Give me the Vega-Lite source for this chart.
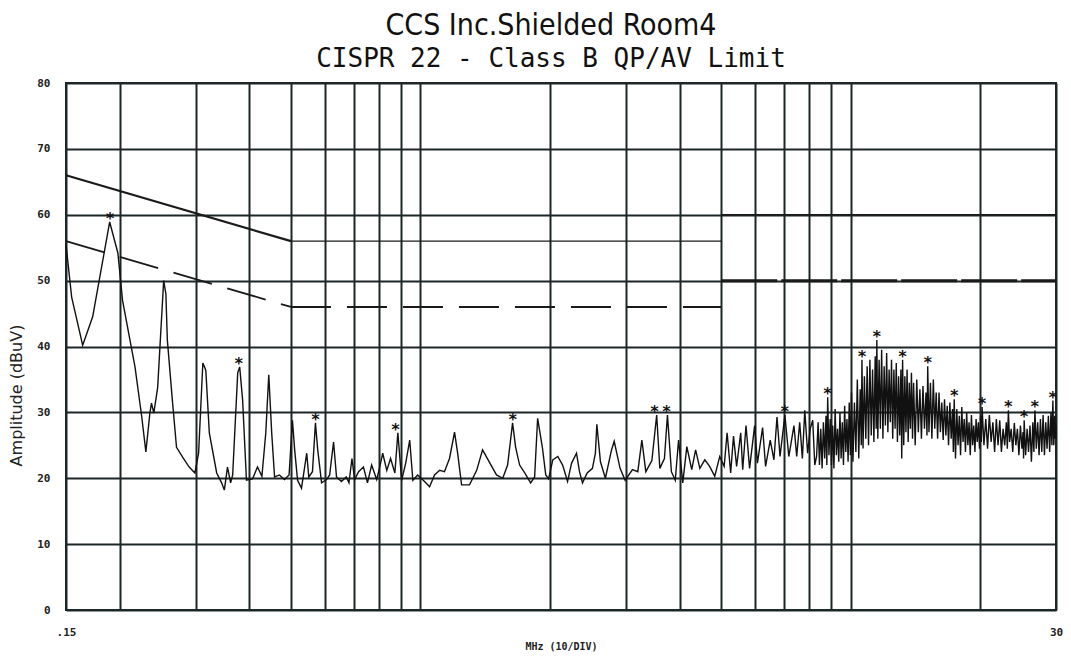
{
  "$schema": "https://vega.github.io/schema/vega-lite/v6.json",
  "autosize": {"type": "none"},
  "width": 990,
  "height": 527,
  "padding": {"left": 66, "top": 83, "right": 15, "bottom": 49},
  "background": "white",
  "title": {
    "text": "CCS Inc.Shielded Room4",
    "subtitle": "CISPR 22 - Class B QP/AV  Limit",
    "anchor": "middle",
    "font": "DejaVu Sans Condensed",
    "fontSize": 30,
    "fontWeight": "normal",
    "color": "#111",
    "subtitleFont": "DejaVu Sans Mono",
    "subtitleFontSize": 26,
    "subtitleColor": "#111",
    "subtitlePadding": 5,
    "offset": 5,
    "dx": -10
  },
  "config": {
    "view": {"stroke": "#1c2626", "strokeWidth": 2},
    "axis": {
      "gridColor": "#1c2626",
      "gridWidth": 2,
      "gridOpacity": 1,
      "ticks": false,
      "domain": false,
      "labelFont": "DejaVu Sans Mono",
      "labelFontWeight": "bold",
      "labelFontSize": 11,
      "labelColor": "#222"
    }
  },
  "datasets": {
    "trace": [
      {"f": 0.15, "dB": 55.5}, {"f": 0.1546, "dB": 47.5}, {"f": 0.164, "dB": 40.2}, {"f": 0.173, "dB": 44.5},
      {"f": 0.1895, "dB": 58.9}, {"f": 0.198, "dB": 54.2}, {"f": 0.203, "dB": 47.0}, {"f": 0.217, "dB": 36.9},
      {"f": 0.225, "dB": 29.3}, {"f": 0.23, "dB": 24.0}, {"f": 0.235, "dB": 29.9}, {"f": 0.237, "dB": 31.4},
      {"f": 0.24, "dB": 29.9}, {"f": 0.245, "dB": 33.8}, {"f": 0.253, "dB": 50.0}, {"f": 0.256, "dB": 48.0},
      {"f": 0.258, "dB": 41.0}, {"f": 0.265, "dB": 31.9}, {"f": 0.271, "dB": 24.7}, {"f": 0.28, "dB": 23.2},
      {"f": 0.29, "dB": 21.7}, {"f": 0.299, "dB": 20.8}, {"f": 0.305, "dB": 23.8}, {"f": 0.312, "dB": 37.5},
      {"f": 0.317, "dB": 36.4}, {"f": 0.323, "dB": 26.9}, {"f": 0.336, "dB": 20.8}, {"f": 0.345, "dB": 19.3},
      {"f": 0.35, "dB": 18.2}, {"f": 0.356, "dB": 21.7}, {"f": 0.362, "dB": 19.3}, {"f": 0.366, "dB": 20.5},
      {"f": 0.376, "dB": 36.0}, {"f": 0.38, "dB": 36.9}, {"f": 0.386, "dB": 31.9}, {"f": 0.394, "dB": 19.7},
      {"f": 0.407, "dB": 19.9}, {"f": 0.418, "dB": 21.7}, {"f": 0.428, "dB": 20.3}, {"f": 0.437, "dB": 26.9},
      {"f": 0.444, "dB": 35.7}, {"f": 0.451, "dB": 26.9}, {"f": 0.458, "dB": 20.2}, {"f": 0.47, "dB": 20.5},
      {"f": 0.483, "dB": 19.8}, {"f": 0.495, "dB": 20.5}, {"f": 0.504, "dB": 28.8}, {"f": 0.51, "dB": 24.3},
      {"f": 0.518, "dB": 19.7}, {"f": 0.529, "dB": 18.5}, {"f": 0.538, "dB": 21.7}, {"f": 0.544, "dB": 23.8},
      {"f": 0.55, "dB": 20.2}, {"f": 0.561, "dB": 21.0}, {"f": 0.57, "dB": 28.4}, {"f": 0.577, "dB": 24.3},
      {"f": 0.589, "dB": 19.3}, {"f": 0.605, "dB": 19.8}, {"f": 0.615, "dB": 20.5}, {"f": 0.628, "dB": 25.5},
      {"f": 0.638, "dB": 20.2}, {"f": 0.655, "dB": 19.5}, {"f": 0.672, "dB": 20.2}, {"f": 0.682, "dB": 19.3},
      {"f": 0.693, "dB": 23.0}, {"f": 0.703, "dB": 19.8}, {"f": 0.718, "dB": 21.0}, {"f": 0.737, "dB": 21.7},
      {"f": 0.753, "dB": 19.3}, {"f": 0.77, "dB": 22.0}, {"f": 0.791, "dB": 19.8}, {"f": 0.804, "dB": 21.7},
      {"f": 0.817, "dB": 23.8}, {"f": 0.835, "dB": 21.2}, {"f": 0.852, "dB": 23.0}, {"f": 0.872, "dB": 20.8},
      {"f": 0.886, "dB": 26.9}, {"f": 0.904, "dB": 19.7}, {"f": 0.924, "dB": 22.3}, {"f": 0.944, "dB": 25.8},
      {"f": 0.96, "dB": 19.7}, {"f": 0.985, "dB": 20.5}, {"f": 1.022, "dB": 19.5}, {"f": 1.05, "dB": 18.7},
      {"f": 1.078, "dB": 20.5}, {"f": 1.108, "dB": 21.2}, {"f": 1.137, "dB": 21.0}, {"f": 1.168, "dB": 23.0},
      {"f": 1.2, "dB": 27.0}, {"f": 1.22, "dB": 23.8}, {"f": 1.246, "dB": 19.0}, {"f": 1.3, "dB": 19.0},
      {"f": 1.351, "dB": 21.2}, {"f": 1.394, "dB": 24.3}, {"f": 1.45, "dB": 22.3}, {"f": 1.502, "dB": 20.5},
      {"f": 1.553, "dB": 20.0}, {"f": 1.594, "dB": 22.0}, {"f": 1.637, "dB": 28.4}, {"f": 1.664, "dB": 24.7},
      {"f": 1.7, "dB": 22.0}, {"f": 1.747, "dB": 20.8}, {"f": 1.803, "dB": 19.3}, {"f": 1.842, "dB": 20.2},
      {"f": 1.872, "dB": 29.1}, {"f": 1.92, "dB": 24.7}, {"f": 1.955, "dB": 20.5}, {"f": 1.985, "dB": 19.9},
      {"f": 2.03, "dB": 22.8}, {"f": 2.085, "dB": 23.3}, {"f": 2.14, "dB": 22.0}, {"f": 2.197, "dB": 19.5},
      {"f": 2.245, "dB": 22.3}, {"f": 2.305, "dB": 23.8}, {"f": 2.342, "dB": 21.0}, {"f": 2.38, "dB": 19.3},
      {"f": 2.44, "dB": 20.8}, {"f": 2.51, "dB": 21.5}, {"f": 2.55, "dB": 23.8}, {"f": 2.57, "dB": 28.2},
      {"f": 2.62, "dB": 22.5}, {"f": 2.69, "dB": 20.0}, {"f": 2.78, "dB": 24.3}, {"f": 2.82, "dB": 25.6},
      {"f": 2.91, "dB": 21.5}, {"f": 2.99, "dB": 19.7}, {"f": 3.11, "dB": 21.3}, {"f": 3.2, "dB": 21.0},
      {"f": 3.27, "dB": 25.8}, {"f": 3.34, "dB": 21.0}, {"f": 3.45, "dB": 22.7}, {"f": 3.54, "dB": 29.6},
      {"f": 3.6, "dB": 21.5}, {"f": 3.69, "dB": 23.0}, {"f": 3.75, "dB": 29.6}, {"f": 3.83, "dB": 21.0},
      {"f": 3.91, "dB": 19.7}, {"f": 3.98, "dB": 25.8}, {"f": 4.07, "dB": 19.3}, {"f": 4.16, "dB": 24.8},
      {"f": 4.27, "dB": 21.3}, {"f": 4.36, "dB": 24.3}, {"f": 4.46, "dB": 21.5}, {"f": 4.58, "dB": 22.8},
      {"f": 4.7, "dB": 21.8}, {"f": 4.83, "dB": 20.3}, {"f": 4.96, "dB": 23.3}, {"f": 5.08, "dB": 21.8},
      {"f": 5.16, "dB": 26.9}, {"f": 5.26, "dB": 20.8}, {"f": 5.34, "dB": 26.4}, {"f": 5.43, "dB": 21.8},
      {"f": 5.55, "dB": 26.9}, {"f": 5.61, "dB": 21.3}, {"f": 5.71, "dB": 28.0}, {"f": 5.82, "dB": 21.5},
      {"f": 5.98, "dB": 28.0}, {"f": 6.07, "dB": 22.3}, {"f": 6.24, "dB": 27.7}, {"f": 6.34, "dB": 21.8},
      {"f": 6.5, "dB": 25.8}, {"f": 6.63, "dB": 22.8}, {"f": 6.74, "dB": 29.3}, {"f": 6.85, "dB": 23.3},
      {"f": 7.03, "dB": 29.6}, {"f": 7.18, "dB": 23.3}, {"f": 7.38, "dB": 28.0}, {"f": 7.49, "dB": 23.3},
      {"f": 7.61, "dB": 28.5}, {"f": 7.72, "dB": 23.0}, {"f": 7.82, "dB": 30.3}, {"f": 7.94, "dB": 23.8},
      {"f": 8.05, "dB": 27.5}, {"f": 8.16, "dB": 28.8}, {"f": 8.25, "dB": 22.0}, {"f": 8.33, "dB": 23.3},
      {"f": 8.40, "dB": 28.5}, {"f": 8.46, "dB": 22.0}, {"f": 8.52, "dB": 27.5}, {"f": 8.58, "dB": 21.5},
      {"f": 8.64, "dB": 28.5}, {"f": 8.70, "dB": 23.0}, {"f": 8.76, "dB": 29.5}, {"f": 8.80, "dB": 22.0},
      {"f": 8.84, "dB": 32.3}, {"f": 8.90, "dB": 23.5}, {"f": 8.96, "dB": 29.0}, {"f": 9.02, "dB": 22.0},
      {"f": 9.08, "dB": 28.0}, {"f": 9.14, "dB": 21.5}, {"f": 9.20, "dB": 30.5}, {"f": 9.26, "dB": 23.5},
      {"f": 9.32, "dB": 27.5}, {"f": 9.38, "dB": 22.5}, {"f": 9.44, "dB": 30.0}, {"f": 9.50, "dB": 23.0},
      {"f": 9.56, "dB": 28.5}, {"f": 9.62, "dB": 22.0}, {"f": 9.68, "dB": 31.0}, {"f": 9.74, "dB": 24.0},
      {"f": 9.80, "dB": 29.0}, {"f": 9.86, "dB": 22.5}, {"f": 9.92, "dB": 31.5}, {"f": 9.98, "dB": 23.5},
      {"f": 10.04, "dB": 33.0}, {"f": 10.12, "dB": 22.5}, {"f": 10.20, "dB": 31.5}, {"f": 10.28, "dB": 24.0},
      {"f": 10.36, "dB": 35.0}, {"f": 10.44, "dB": 23.0}, {"f": 10.52, "dB": 33.5}, {"f": 10.58, "dB": 25.0},
      {"f": 10.62, "dB": 38.0}, {"f": 10.68, "dB": 24.5}, {"f": 10.76, "dB": 35.5}, {"f": 10.84, "dB": 26.0},
      {"f": 10.92, "dB": 37.0}, {"f": 11.00, "dB": 25.0}, {"f": 11.08, "dB": 38.0}, {"f": 11.16, "dB": 26.5},
      {"f": 11.24, "dB": 36.5}, {"f": 11.32, "dB": 25.5}, {"f": 11.40, "dB": 38.5}, {"f": 11.46, "dB": 27.5},
      {"f": 11.50, "dB": 41.0}, {"f": 11.56, "dB": 26.0}, {"f": 11.64, "dB": 38.0}, {"f": 11.72, "dB": 27.5},
      {"f": 11.80, "dB": 39.5}, {"f": 11.88, "dB": 26.0}, {"f": 11.96, "dB": 37.0}, {"f": 12.04, "dB": 28.0},
      {"f": 12.12, "dB": 39.0}, {"f": 12.20, "dB": 27.0}, {"f": 12.28, "dB": 36.5}, {"f": 12.36, "dB": 28.5},
      {"f": 12.44, "dB": 38.0}, {"f": 12.52, "dB": 26.0}, {"f": 12.60, "dB": 36.5}, {"f": 12.68, "dB": 27.5},
      {"f": 12.76, "dB": 37.5}, {"f": 12.84, "dB": 25.5}, {"f": 12.92, "dB": 35.5}, {"f": 13.00, "dB": 26.5},
      {"f": 13.08, "dB": 36.5}, {"f": 13.14, "dB": 23.0}, {"f": 13.20, "dB": 38.0}, {"f": 13.28, "dB": 25.0},
      {"f": 13.36, "dB": 35.5}, {"f": 13.44, "dB": 27.0}, {"f": 13.52, "dB": 36.5}, {"f": 13.60, "dB": 25.5},
      {"f": 13.68, "dB": 34.5}, {"f": 13.76, "dB": 27.5}, {"f": 13.84, "dB": 36.0}, {"f": 13.92, "dB": 26.0},
      {"f": 14.00, "dB": 34.5}, {"f": 14.12, "dB": 25.0}, {"f": 14.24, "dB": 35.0}, {"f": 14.36, "dB": 27.0},
      {"f": 14.48, "dB": 33.5}, {"f": 14.60, "dB": 26.0}, {"f": 14.72, "dB": 34.0}, {"f": 14.84, "dB": 27.5},
      {"f": 14.96, "dB": 33.0}, {"f": 15.04, "dB": 26.5}, {"f": 15.10, "dB": 37.0}, {"f": 15.20, "dB": 27.0},
      {"f": 15.32, "dB": 34.5}, {"f": 15.44, "dB": 26.0}, {"f": 15.56, "dB": 35.0}, {"f": 15.68, "dB": 27.5},
      {"f": 15.80, "dB": 33.0}, {"f": 15.92, "dB": 26.0}, {"f": 16.04, "dB": 33.0}, {"f": 16.16, "dB": 27.0},
      {"f": 16.28, "dB": 31.5}, {"f": 16.40, "dB": 25.8}, {"f": 16.52, "dB": 32.0}, {"f": 16.64, "dB": 26.5},
      {"f": 16.76, "dB": 31.0}, {"f": 16.88, "dB": 25.0}, {"f": 17.00, "dB": 31.5}, {"f": 17.12, "dB": 26.0},
      {"f": 17.24, "dB": 30.5}, {"f": 17.32, "dB": 24.0}, {"f": 17.40, "dB": 32.0}, {"f": 17.52, "dB": 23.0},
      {"f": 17.64, "dB": 30.5}, {"f": 17.76, "dB": 25.0}, {"f": 17.88, "dB": 29.5}, {"f": 18.00, "dB": 23.5},
      {"f": 18.12, "dB": 30.8}, {"f": 18.24, "dB": 25.5}, {"f": 18.36, "dB": 29.0}, {"f": 18.48, "dB": 24.0},
      {"f": 18.60, "dB": 30.0}, {"f": 18.72, "dB": 25.0}, {"f": 18.84, "dB": 28.5}, {"f": 18.96, "dB": 23.5},
      {"f": 19.08, "dB": 29.6}, {"f": 19.20, "dB": 25.0}, {"f": 19.32, "dB": 28.0}, {"f": 19.44, "dB": 24.0},
      {"f": 19.56, "dB": 29.0}, {"f": 19.68, "dB": 25.5}, {"f": 19.80, "dB": 28.5}, {"f": 19.92, "dB": 24.5},
      {"f": 20.04, "dB": 29.5}, {"f": 20.12, "dB": 25.5}, {"f": 20.20, "dB": 30.8}, {"f": 20.40, "dB": 25.0},
      {"f": 20.60, "dB": 29.0}, {"f": 20.80, "dB": 24.5}, {"f": 21.00, "dB": 29.6}, {"f": 21.20, "dB": 25.5},
      {"f": 21.40, "dB": 28.5}, {"f": 21.60, "dB": 24.0}, {"f": 21.80, "dB": 29.0}, {"f": 22.00, "dB": 25.0},
      {"f": 22.20, "dB": 28.8}, {"f": 22.40, "dB": 24.0}, {"f": 22.60, "dB": 27.5}, {"f": 22.80, "dB": 25.0},
      {"f": 23.00, "dB": 28.5}, {"f": 23.12, "dB": 24.5}, {"f": 23.25, "dB": 30.3}, {"f": 23.40, "dB": 25.5},
      {"f": 23.60, "dB": 27.5}, {"f": 23.80, "dB": 24.0}, {"f": 24.00, "dB": 28.4}, {"f": 24.20, "dB": 25.0},
      {"f": 24.40, "dB": 27.5}, {"f": 24.60, "dB": 23.5}, {"f": 24.80, "dB": 28.0}, {"f": 25.00, "dB": 24.5},
      {"f": 25.15, "dB": 27.0}, {"f": 25.22, "dB": 23.0}, {"f": 25.30, "dB": 28.8}, {"f": 25.50, "dB": 23.5},
      {"f": 25.70, "dB": 27.5}, {"f": 25.90, "dB": 24.0}, {"f": 26.10, "dB": 28.0}, {"f": 26.30, "dB": 22.5},
      {"f": 26.50, "dB": 28.5}, {"f": 26.65, "dB": 24.0}, {"f": 26.80, "dB": 30.3}, {"f": 27.00, "dB": 24.5},
      {"f": 27.20, "dB": 28.5}, {"f": 27.40, "dB": 23.5}, {"f": 27.60, "dB": 29.0}, {"f": 27.80, "dB": 24.0},
      {"f": 28.00, "dB": 29.6}, {"f": 28.20, "dB": 23.5}, {"f": 28.40, "dB": 28.5}, {"f": 28.60, "dB": 24.5},
      {"f": 28.80, "dB": 29.5}, {"f": 29.00, "dB": 24.0}, {"f": 29.20, "dB": 30.0}, {"f": 29.35, "dB": 25.0},
      {"f": 29.50, "dB": 31.8}, {"f": 29.65, "dB": 25.0}, {"f": 29.80, "dB": 29.5}, {"f": 29.92, "dB": 26.0},
      {"f": 30.00, "dB": 28.0}
    ],
    "limits": [
      {"seg": "QP1", "f": 0.15, "dB": 66}, {"seg": "QP1", "f": 0.5, "dB": 56},
      {"seg": "QP2", "f": 0.5, "dB": 56}, {"seg": "QP2", "f": 5, "dB": 56},
      {"seg": "QP3", "f": 5, "dB": 60}, {"seg": "QP3", "f": 30, "dB": 60},
      {"seg": "AV1", "f": 0.15, "dB": 56}, {"seg": "AV1", "f": 0.5, "dB": 46},
      {"seg": "AV2", "f": 0.5, "dB": 46}, {"seg": "AV2", "f": 5, "dB": 46},
      {"seg": "AV3", "f": 5, "dB": 50}, {"seg": "AV3", "f": 30, "dB": 50}
    ],
    "peaks": [
      {"f": 0.19, "dB": 58.9}, {"f": 0.378, "dB": 36.9}, {"f": 0.57, "dB": 28.4}, {"f": 0.875, "dB": 26.9},
      {"f": 1.64, "dB": 28.4}, {"f": 3.5, "dB": 29.6}, {"f": 3.73, "dB": 29.6}, {"f": 7.03, "dB": 29.6},
      {"f": 8.84, "dB": 32.3}, {"f": 10.62, "dB": 38.0}, {"f": 11.5, "dB": 41.0}, {"f": 13.2, "dB": 38.0},
      {"f": 15.1, "dB": 37.0}, {"f": 17.4, "dB": 32.0}, {"f": 20.2, "dB": 30.8}, {"f": 23.25, "dB": 30.3},
      {"f": 25.3, "dB": 28.8}, {"f": 26.8, "dB": 30.3}, {"f": 29.5, "dB": 31.8}
    ]
  },
  "encoding": {
    "x": {
      "field": "f", "type": "quantitative",
      "scale": {"type": "log", "domain": [0.15, 30], "nice": false, "zero": false},
      "axis": {
        "values": [0.15, 0.2, 0.3, 0.4, 0.5, 0.6, 0.7, 0.8, 0.9, 1, 2, 3, 4, 5, 6, 7, 8, 9, 10, 20, 30],
        "labelExpr": "datum.value == 0.15 ? '.15' : (datum.value == 30 ? '30' : '')",
        "labelFlush": false,
        "labelOverlap": false,
        "labelPadding": 16,
        "title": "MHz (10/DIV)",
        "titleFont": "DejaVu Sans Mono",
        "titleFontSize": 10,
        "titleFontWeight": "bold",
        "titleColor": "#222",
        "titlePadding": 4
      }
    },
    "y": {
      "field": "dB", "type": "quantitative",
      "scale": {"domain": [0, 80], "nice": false},
      "axis": {
        "values": [0, 10, 20, 30, 40, 50, 60, 70, 80],
        "labelPadding": 16,
        "title": "Amplitude (dBuV)",
        "titleFont": "DejaVu Sans",
        "titleFontSize": 16,
        "titleFontWeight": "normal",
        "titleColor": "#222",
        "titleX": -42,
        "titleY": 312
      }
    }
  },
  "layer": [
    {
      "data": {"name": "limits"},
      "transform": [{"filter": "datum.seg == 'QP1'"}],
      "mark": {"type": "line", "color": "#1a1a1a", "strokeWidth": 2.2}
    },
    {
      "data": {"name": "limits"},
      "transform": [{"filter": "datum.seg == 'QP2' || datum.seg == 'QP3'"}],
      "mark": {"type": "line", "color": "#1a1a1a", "strokeWidth": 1.3},
      "encoding": {"detail": {"field": "seg"}}
    },
    {
      "data": {"name": "limits"},
      "transform": [{"filter": "datum.seg == 'AV1' || datum.seg == 'AV2'"}],
      "mark": {"type": "line", "color": "#1a1a1a", "strokeWidth": 1.8, "strokeDash": [40, 16]},
      "encoding": {"detail": {"field": "seg"}}
    },
    {
      "data": {"name": "limits"},
      "transform": [{"filter": "datum.seg == 'AV3'"}],
      "mark": {"type": "line", "color": "#1a1a1a", "strokeWidth": 3, "strokeDash": [56, 4]}
    },
    {
      "data": {"name": "trace"},
      "mark": {"type": "line", "color": "#111", "strokeWidth": 1.4}
    },
    {
      "data": {"name": "peaks"},
      "mark": {"type": "text", "text": "*", "font": "DejaVu Sans Mono", "fontSize": 16, "fontWeight": "bold", "baseline": "middle", "dy": -3, "color": "#111"}
    }
  ]
}
